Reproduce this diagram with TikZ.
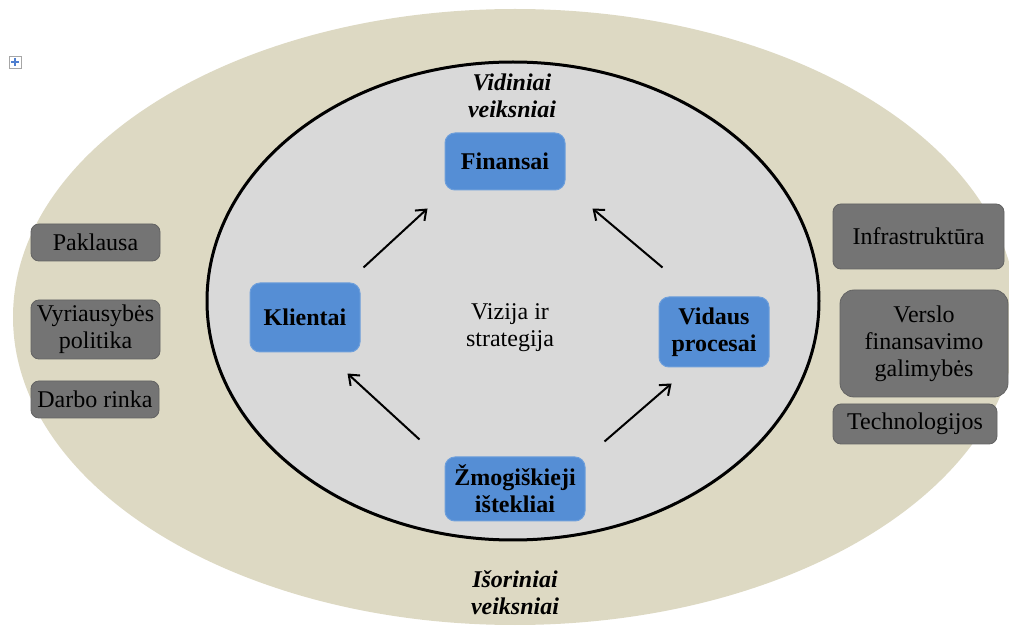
\documentclass[tikz,border=0pt]{standalone}
\usepackage{fontspec}
\setmainfont{Liberation Serif}
\usetikzlibrary{arrows.meta,calc}
\definecolor{outerc}{HTML}{DDD9C3}
\definecolor{innerc}{HTML}{D9D9D9}
\definecolor{bluec}{HTML}{558ED5}
\definecolor{grayc}{HTML}{747474}
\definecolor{iconc}{HTML}{4F7FD0}
\begin{document}
\begin{tikzpicture}[x=0.5pt,y=-0.5pt,
  bluebox/.style={rounded corners=5pt, fill=bluec, draw=bluec!85!white, line width=0.5pt,
    font=\fontsize{12}{13.5}\selectfont\bfseries, align=center, inner sep=0pt},
  graybox/.style={rounded corners=4pt, fill=grayc, draw=grayc!85!black, line width=0.4pt,
    font=\fontsize{12}{13.5}\selectfont, align=center, inner sep=0pt},
  label/.style={font=\fontsize{12}{13.5}\selectfont, align=center, inner sep=0pt},
  itlabel/.style={font=\fontsize{12}{13.5}\selectfont\bfseries\itshape, align=center, inner sep=0pt},
  conn/.style={line width=1pt, -{Straight Barb[length=4.5pt,width=7pt,line width=1pt]}}
]
\useasboundingbox (0,0) rectangle (1009,626);
\begin{scope}
\clip (0,0) rectangle (1009,626);
\fill[outerc] (515,317) ellipse [x radius=502, y radius=308];
\end{scope}
\draw[fill=innerc, line width=1.5pt] (513,301) ellipse [x radius=306, y radius=239];

% small move icon
\draw[gray!70, fill=white, line width=0.4pt] (9,56) rectangle (21,68);
\draw[iconc, line width=0.6pt] (11,62) -- (19,62) (15,58) -- (15,66);

\node[bluebox, minimum width=60pt, minimum height=28.5pt] (fin) at (505,161.5) {Finansai};
\node[bluebox, minimum width=55pt, minimum height=34.5pt] (kli) at (305,317.5) {Klientai};
\node[bluebox, minimum width=55pt, minimum height=35pt] (vid) at (714,332) {Vidaus\\procesai};
\node[bluebox, minimum width=70pt, minimum height=32pt] (zmo) at (515,489) {Žmogiškieji\\ištekliai};

\node[label] (viz) at (510,328) {Vizija ir\\strategija};
\node[itlabel] (vidin) at (512,96) {Vidiniai\\veiksniai};
\node[itlabel] (isor) at (515,593) {Išoriniai\\veiksniai};

\node[graybox, minimum width=64.5pt, minimum height=18.5pt] (pak) at (95.5,242.5) {Paklausa};
\node[graybox, minimum width=64.5pt, minimum height=29.5pt] (vyr) at (95.5,329.5) {Vyriausybės\\politika};
\node[graybox, minimum width=64pt, minimum height=18.5pt] (dar) at (95,399.5) {Darbo rinka};
\node[graybox, minimum width=85.5pt, minimum height=32.5pt] (inf) at (918.5,236.5) {Infrastruktūra};
\node[graybox, rounded corners=7pt, minimum width=84pt, minimum height=53.5pt] (ver) at (924,343.5) {Verslo\\finansavimo\\galimybės};
\node[graybox, minimum width=82pt, minimum height=20pt] (tec) at (915,424) {Technologijos};

\draw[conn] ($(kli.north east)+(3,-15)$) -- ($(fin.south west)+(-17,18)$);
\draw[conn] ($(vid.north west)+(4,-29)$) -- ($(fin.south east)+(27,18)$);
\draw[conn] ($(zmo.north west)+(-25,-17)$) -- ($(kli.south east)+(-13,21)$);
\draw[conn] ($(zmo.north east)+(19,-15)$) -- ($(vid.south west)+(13,16)$);
\end{tikzpicture}
\end{document}
